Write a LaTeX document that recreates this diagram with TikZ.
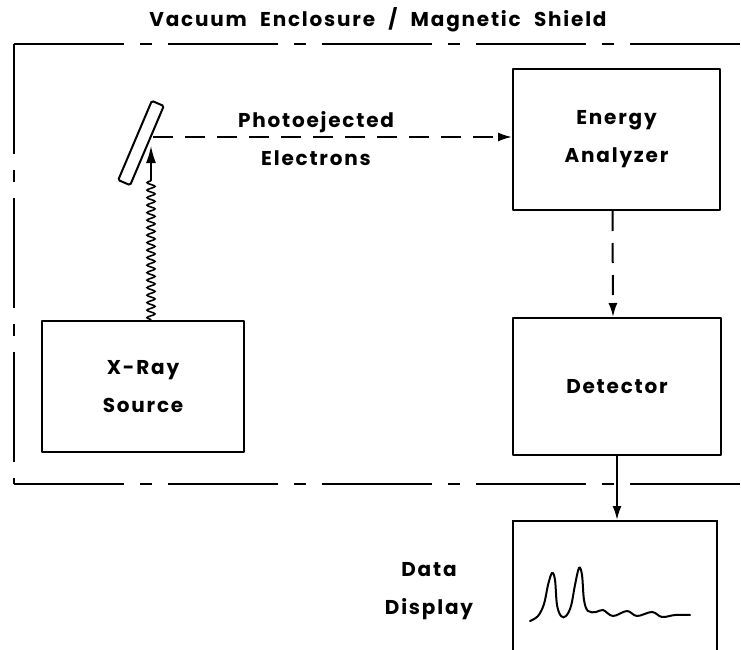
\documentclass[tikz,border=0pt]{standalone}
\usepackage{fontspec}
\setmainfont{Poppins}[LetterSpace=9]
\newfontfamily\titlefont{Poppins}[LetterSpace=9,WordSpace=2.2]
\usetikzlibrary{arrows.meta,decorations.pathmorphing}
\begin{document}
\begin{tikzpicture}[x=1pt,y=-1pt,line width=2pt,
  blk/.style={draw,line cap=round,line join=round,align=center,inner sep=0pt,font=\fontsize{20}{38}\selectfont\bfseries},
  lbl/.style={align=center,inner sep=0pt,font=\fontsize{20}{38}\selectfont\bfseries},
  encl/.style={line width=2pt,dash pattern=on 110pt off 16pt on 12pt off 16pt},
  dsh/.style={line width=2pt,dash pattern=on 20pt off 12pt},
  tip/.style={-{Latex[length=14pt,width=9pt]}}]
\useasboundingbox (0,0) rectangle (741,650);
\clip (0,0) rectangle (741,650);
% title
\node[inner sep=0pt,font=\titlefont\fontsize{20}{24}\selectfont\bfseries] (title) at (378,20) {Vacuum Enclosure / Magnetic Shield};
% enclosure
\coordinate (tl) at (14,44);
\coordinate (bl) at (14,484);
\coordinate (tr) at (745,44);
\coordinate (br) at (745,484);
\draw[encl] (tl) -- (tr);
\draw[encl] (tl) -- (bl);
\draw[encl] (bl) -- (br);
% boxes
\node[blk,minimum width=207pt,minimum height=141pt] (ea) at (616.5,139.5) {Energy\\Analyzer};
\node[blk,minimum width=208pt,minimum height=137pt] (det) at (617,386.5) {Detector};
\node[blk,minimum width=202pt,minimum height=131pt] (xr) at (143,386.5) {X-Ray\\Source};
\node[draw,minimum width=204pt,minimum height=139pt,inner sep=0pt] (disp) at (615,590.5) {};
\node[lbl] (dlbl) at (429,591) {Data\\Display};
% sample plate
\node[draw,line width=2pt,rounded corners=1.5pt,minimum width=13pt,minimum height=86pt,inner sep=0pt,rotate=-23] (plate) at (141,143) {};
% x-rays
\coordinate (hit) at (151,146);
\draw[line width=1.6pt,decorate,decoration={snake,amplitude=4pt,segment length=7.5pt,post length=10pt}] (xr.north -| hit) -- (151,168);
\draw[-{Latex[length=17pt,width=10pt]},line width=1.6pt] (151,172) -- (hit);
% photoelectrons
\coordinate (pe) at (153,137);
\draw[dsh,tip] (pe) -- (pe -| ea.west);
\node[lbl] (petext) at (316,139) {Photoejected\\Electrons};
% analyzer -> detector
\draw[dsh,tip] ([xshift=-4pt]ea.south) -- ([xshift=-4pt]det.north);
% detector -> display
\draw[tip] (det.south) -- (det.south |- disp.north);
% spectrum
\draw[line width=2pt,line cap=round] plot[smooth,tension=0.6] coordinates {(530,621) (538,616) (544,604) (548,585) (552,573) (555,580) (557,605) (561,616) (566,616) (571,606) (575,585) (579,568) (582,575) (584,600) (588,611) (596,612) (603,610) (613,616) (627,611) (637,616) (652,612) (662,617) (675,615) (690,615)};
\end{tikzpicture}
\end{document}
